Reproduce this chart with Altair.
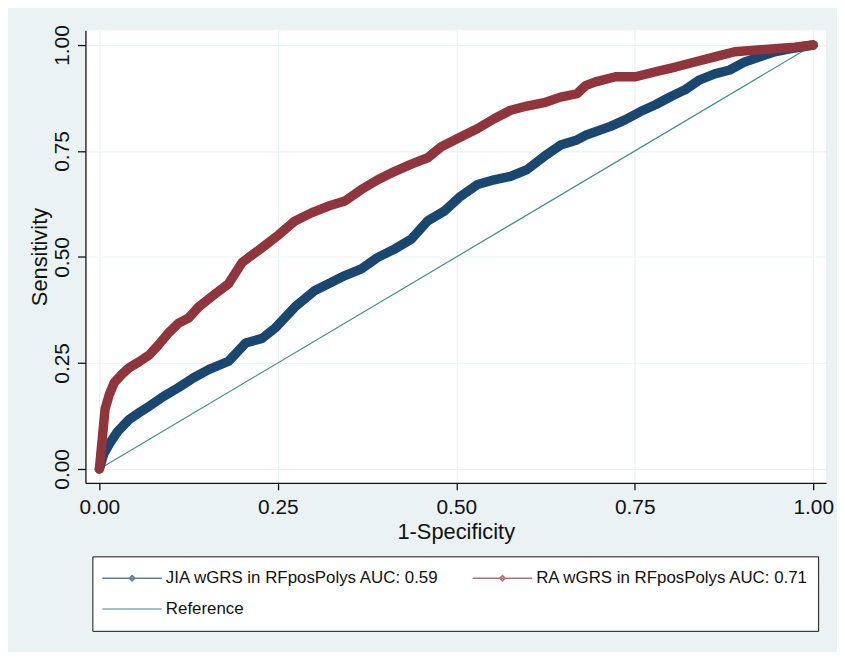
import altair as alt
import pandas as pd

series_names = ["JIA wGRS in RFposPolys AUC: 0.59", "RA wGRS in RFposPolys AUC: 0.71", "Reference"]
series_colors = ["#1A476F", "#90353B", "#3F8F83"]
tick_values = [0, 0.25, 0.5, 0.75, 1]

jia_fpr = [0, 0.006, 0.014, 0.025, 0.042, 0.056, 0.070, 0.090, 0.111, 0.132, 0.153,
           0.181, 0.205, 0.228, 0.246, 0.274, 0.302, 0.321, 0.344, 0.367, 0.390, 0.414,
           0.437, 0.460, 0.483, 0.506, 0.530, 0.553, 0.576, 0.599, 0.623, 0.646, 0.669,
           0.681, 0.716, 0.737, 0.758, 0.779, 0.800, 0.821, 0.841, 0.862, 0.883, 0.904,
           0.925, 0.946, 0.974, 1.0]
jia_tpr = [0, 0.035, 0.059, 0.087, 0.117, 0.133, 0.148, 0.171, 0.192, 0.215, 0.234,
           0.254, 0.297, 0.308, 0.332, 0.382, 0.421, 0.437, 0.456, 0.472, 0.499, 0.519,
           0.542, 0.585, 0.608, 0.643, 0.671, 0.682, 0.690, 0.706, 0.737, 0.764, 0.776,
           0.787, 0.808, 0.824, 0.843, 0.859, 0.878, 0.895, 0.918, 0.932, 0.941, 0.960,
           0.972, 0.984, 0.993, 1.0]

ra_fpr = [0, 0.004, 0.008, 0.014, 0.021, 0.031, 0.042, 0.056, 0.070, 0.083, 0.097, 0.111,
          0.125, 0.139, 0.160, 0.181, 0.200, 0.228, 0.251, 0.274, 0.297, 0.321, 0.344,
          0.367, 0.390, 0.414, 0.437, 0.460, 0.479, 0.506, 0.530, 0.553, 0.576, 0.599,
          0.623, 0.646, 0.669, 0.681, 0.695, 0.723, 0.751, 0.779, 0.807, 0.834, 0.862,
          0.890, 0.918, 0.946, 0.974, 1.0]
ra_tpr = [0, 0.070, 0.141, 0.176, 0.204, 0.222, 0.239, 0.253, 0.269, 0.293, 0.321, 0.344,
          0.356, 0.382, 0.410, 0.437, 0.487, 0.522, 0.552, 0.585, 0.604, 0.620, 0.632,
          0.659, 0.682, 0.702, 0.719, 0.734, 0.760, 0.783, 0.803, 0.826, 0.846, 0.856,
          0.864, 0.877, 0.885, 0.904, 0.913, 0.925, 0.925, 0.937, 0.948, 0.960, 0.972,
          0.984, 0.988, 0.991, 0.995, 1.0]

ref_fpr = [0, 1]
ref_tpr = [0, 1]

rows = []
for name, xs, ys in [(series_names[0], jia_fpr, jia_tpr),
                     (series_names[1], ra_fpr, ra_tpr),
                     (series_names[2], ref_fpr, ref_tpr)]:
    for i, (xv, yv) in enumerate(zip(xs, ys)):
        rows.append({"series": name, "fpr": xv, "tpr": yv, "order": i})
df = pd.DataFrame(rows)

# legend grid fills column by column: JIA, Reference | RA
legend_order = [series_names[0], series_names[2], series_names[1]]
legend_colors = [series_colors[0], series_colors[2], series_colors[1]]

FONT = "Liberation Sans, Arial, sans-serif"
marker_path = "M-1,0H1M0,-0.09L0.09,0L0,0.09L-0.09,0Z"
plain_path = "M-1,0H1"
legend_paths = [marker_path, plain_path, marker_path]

legend = alt.Legend(
    title=None,
    orient="none",
    legendX=7,
    legendY=530,
    columns=2,
    columnPadding=32,
    rowPadding=5,
    clipHeight=26,
    padding=9,
    symbolSize=3600,
    symbolStrokeWidth=1.6,
    labelOffset=3,
    labelFont=FONT,
    labelFontSize=17,
    labelColor="#111111",
    labelLimit=0,
    fillColor="white",
    strokeColor="#111111",
)

x_enc = alt.X(
    "fpr:Q",
    scale=alt.Scale(domain=[-0.0195, 1.018], nice=False, zero=False),
    axis=alt.Axis(values=tick_values, format=".2f", title="1-Specificity",
                  labelPadding=7, titlePadding=4, tickSize=7),
)
y_enc = alt.Y(
    "tpr:Q",
    scale=alt.Scale(domain=[-0.033, 1.035], nice=False, zero=False),
    axis=alt.Axis(values=tick_values, format=".2f", title="Sensitivity",
                  labelAngle=270, labelAlign="center", labelBaseline="alphabetic",
                  labelPadding=9, titlePadding=0, tickSize=8),
)
color_enc = alt.Color("series:N", scale=alt.Scale(domain=legend_order, range=legend_colors),
                      legend=legend)
shape_enc = alt.Shape("series:N", scale=alt.Scale(domain=legend_order, range=legend_paths),
                      legend=legend)

base = alt.Chart(df).encode(x=x_enc, y=y_enc, color=color_enc, order=alt.Order("order:Q"))

ref_layer = base.transform_filter(alt.datum.series == series_names[2]).mark_line(strokeWidth=1.2)
jia_layer = base.transform_filter(alt.datum.series == series_names[0]).mark_line(
    strokeWidth=9.5, strokeJoin="round", strokeCap="round")
ra_layer = base.transform_filter(alt.datum.series == series_names[1]).mark_line(
    strokeWidth=9.5, strokeJoin="round", strokeCap="round")
legend_layer = base.encode(shape=shape_enc).transform_filter("false").mark_point(filled=False)

chart = alt.layer(ref_layer, jia_layer, ra_layer, legend_layer).properties(
    width=746,
    height=456,
    autosize=alt.AutoSizeParams(type="none"),
    padding={"left": 78, "top": 20, "right": 11, "bottom": 168},
    background="#EAF2F3",
).configure_view(
    fill="white", stroke=None
).configure_axis(
    domainColor="#111111", domainWidth=1.3, tickColor="#111111", tickWidth=1.3,
    gridColor="#EAF2F3", gridWidth=1.2,
    labelFont=FONT, labelFontSize=21, labelColor="#111111",
    titleFont=FONT, titleFontSize=22, titleColor="#111111", titleFontWeight="normal",
)

chart.save("out.html", embed_options={"renderer": "svg", "actions": False})
